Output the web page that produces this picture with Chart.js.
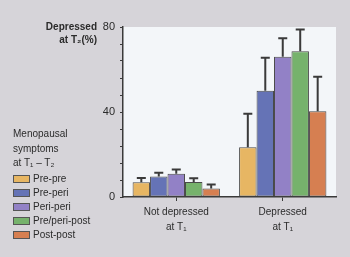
<!DOCTYPE html>
<html>
<head>
<meta charset="utf-8">
<script src="https://cdn.jsdelivr.net/npm/chart.js@4/dist/chart.umd.min.js"></script>
<style>
    html, body { margin: 0; padding: 0; }
    body { width: 350px; height: 257px; background: #d6d4d9; position: relative; overflow: hidden;
           font-family: "Liberation Sans", Arial, sans-serif; color: #2b2b2b; }
    #wrap { position: absolute; left: 0; top: 0; width: 350px; height: 257px; }
    #y-title { position: absolute; right: 253px; top: 20px; font-size: 10px; font-weight: bold;
               text-align: right; line-height: 13px; }
    #legend { position: absolute; left: 13px; top: 127px; font-size: 10px; }
    #legend .head { line-height: 14.5px; margin-bottom: 1px; }
    #legend .item { height: 14px; display: flex; align-items: center; }
    #legend .box { width: 15px; height: 6px; border: 1px solid #555; margin-right: 3px; }
</style>
</head>
<body>
<div id="wrap"><canvas id="chart" width="350" height="257"></canvas></div>
<div id="y-title">Depressed<br>at T₂(%)</div>
<div id="legend">
    <div class="head">Menopausal<br>symptoms<br>at T₁ – T₂</div>
    <div id="legend-items"></div>
</div>
<script>
const categories = [['Not depressed', 'at T₁'], ['Depressed', 'at T₁']];
const seriesNames = ['Pre-pre', 'Pre-peri', 'Peri-peri', 'Pre/peri-post', 'Post-post'];
const seriesColors = ['#e7b663', '#6573b6', '#9281c6', '#76b26c', '#d67f51'];

// percentage depressed at T2, per group
const prePre = [7, 23.4];
const prePeri = [9.6, 50];
const periPeri = [11, 66];
const prePeriPost = [7.1, 68.6];
const postPost = [4, 40.4];

// upper error bar lengths
const prePreErr = [2, 15.8];
const prePeriErr = [1.8, 15.5];
const periPeriErr = [2, 8.7];
const prePeriPostErr = [1.7, 10.2];
const postPostErr = [1.9, 16.2];

const yTickLabels = [0, 40, 80];

const seriesValues = [prePre, prePeri, periPeri, prePeriPost, postPost];
const seriesErrors = [prePreErr, prePeriErr, periPeriErr, prePeriPostErr, postPostErr];

const axisColor = '#3a3a3a';

const plotBackground = {
    id: 'plotBackground',
    beforeDraw(chart) {
        const { ctx, chartArea } = chart;
        ctx.save();
        ctx.fillStyle = '#f3f6f9';
        ctx.fillRect(chartArea.left, chartArea.top, chartArea.right - chartArea.left, chartArea.bottom - chartArea.top);
        ctx.restore();
    }
};

const errorBars = {
    id: 'errorBars',
    afterDatasetsDraw(chart) {
        const ctx = chart.ctx;
        const yScale = chart.scales.y;
        ctx.save();
        ctx.strokeStyle = '#3a3a3a';
        ctx.lineWidth = 2;
        chart.data.datasets.forEach((ds, i) => {
            const meta = chart.getDatasetMeta(i);
            meta.data.forEach((bar, j) => {
                const top = yScale.getPixelForValue(ds.data[j] + ds.errors[j]);
                ctx.beginPath();
                ctx.moveTo(bar.x, bar.y);
                ctx.lineTo(bar.x, top);
                ctx.moveTo(bar.x - 4.5, top);
                ctx.lineTo(bar.x + 4.5, top);
                ctx.stroke();
            });
        });
        ctx.restore();
    }
};

const datasets = seriesNames.map((name, i) => ({
    label: name,
    data: seriesValues[i],
    errors: seriesErrors[i],
    backgroundColor: seriesColors[i],
    borderColor: '#4a4a4a',
    borderWidth: 1,
    borderSkipped: false
}));

new Chart(document.getElementById('chart'), {
    type: 'bar',
    data: { labels: categories, datasets: datasets },
    plugins: [plotBackground, errorBars],
    options: {
        responsive: false,
        animation: false,
        categoryPercentage: 0.82,
        barPercentage: 1,
        layout: { padding: { top: 27, right: 14, left: 0, bottom: 0 } },
        plugins: { legend: { display: false }, tooltip: { enabled: false } },
        scales: {
            x: {
                afterFit(scale) { scale.height = 60; },
                border: { color: axisColor, width: 1.5 },
                grid: { offset: false, drawOnChartArea: false, tickLength: 4, color: axisColor },
                ticks: {
                    color: '#2b2b2b', padding: 4,
                    font: { family: 'Liberation Sans', size: 10, lineHeight: '15px' }
                }
            },
            y: {
                min: 0, max: 80,
                afterFit(scale) { scale.width = 123; },
                border: { color: axisColor, width: 1.5 },
                grid: { drawOnChartArea: false, tickLength: 3, color: axisColor },
                ticks: {
                    stepSize: 8, color: '#2b2b2b', padding: 5,
                    font: { family: 'Liberation Sans', size: 11 },
                    callback: v => yTickLabels.includes(v) ? v : ''
                }
            }
        }
    }
});

const legendItems = document.getElementById('legend-items');
seriesNames.forEach((name, i) => {
    const item = document.createElement('div');
    item.className = 'item';
    item.innerHTML = `<span class="box" style="background:${seriesColors[i]}"></span><span>${name}</span>`;
    legendItems.appendChild(item);
});
</script>
</body>
</html>
